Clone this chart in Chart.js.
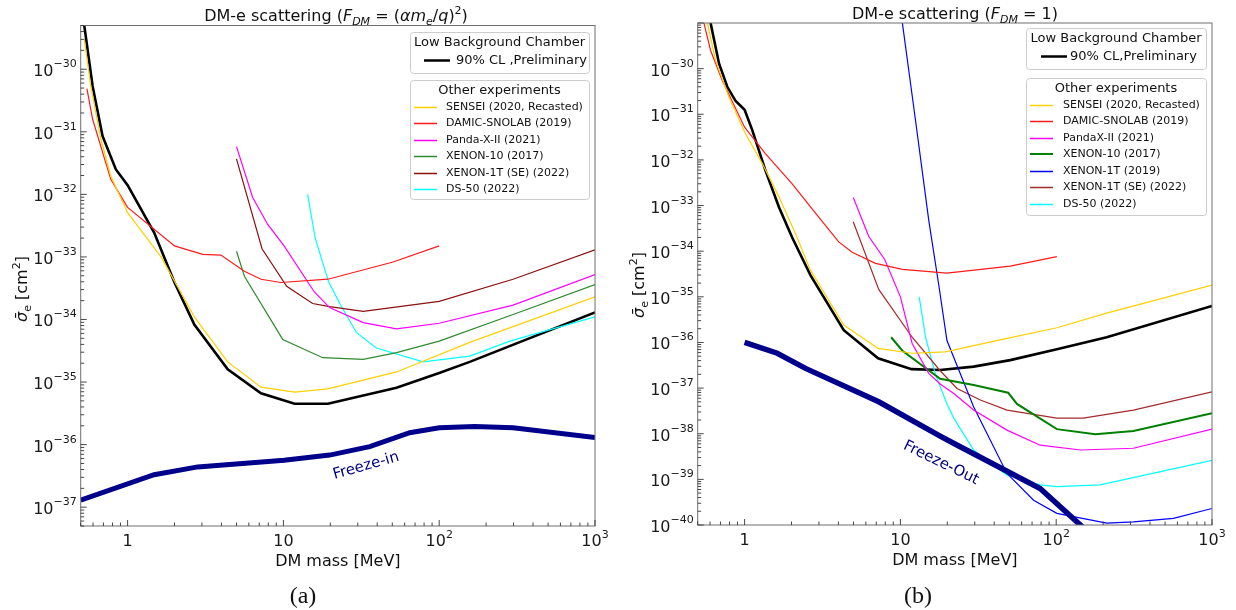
<!DOCTYPE html>
<html><head><meta charset="utf-8">
<script src="https://cdn.jsdelivr.net/npm/chart.js@4.4.0/dist/chart.umd.min.js"></script>
<style>
html,body{margin:0;padding:0;background:#fff;width:1236px;height:610px;overflow:hidden}
.w{position:absolute;top:0;width:618px;height:610px}
#wa{left:0}#wb{left:618px}
canvas{display:block}
</style></head><body>
<div class="w" id="wa"><canvas id="ca" width="618" height="610" style="width:618px;height:610px"></canvas></div>
<div class="w" id="wb"><canvas id="cb" width="618" height="610" style="width:618px;height:610px"></canvas></div>
<script>
// ---------------- DATA: panel (a)  F_DM = (alpha m_e / q)^2 ----------------
const aLbcM   = [0.5, 0.596, 0.691, 0.841, 1.0, 1.48, 2.0, 2.68, 4.39, 7.18, 11.8, 19.3, 53.2, 100, 157, 1000];
const aLbcS   = [1.3e-29, 5.4e-31, 8.5e-32, 2.5e-32, 1.4e-32, 2.45e-33, 3.9e-34, 8.3e-35, 1.6e-35, 6.6e-36, 4.5e-36, 4.5e-36, 8.1e-36, 1.4e-35, 2.1e-35, 1.3e-34];
const aSenseiM = [0.527, 0.58, 0.674, 0.78, 1.0, 1.64, 2.68, 4.39, 7.18, 11.8, 19.3, 53.2, 157, 1000];
const aSenseiS = [3.0e-30, 5.4e-31, 7.6e-32, 1.95e-32, 5.1e-33, 1.0e-33, 1.1e-34, 2.1e-35, 8.3e-36, 6.9e-36, 7.8e-36, 1.45e-35, 4.3e-35, 2.3e-34];
const aDamicM = [0.548, 0.596, 0.691, 0.78, 1.0, 2.0, 3.03, 3.97, 5.62, 7.18, 9.65, 19.3, 50.6, 100];
const aDamicS = [4.9e-31, 1.6e-31, 4.7e-32, 1.74e-32, 6.2e-33, 1.5e-33, 1.1e-33, 1.07e-33, 5.9e-34, 4.4e-34, 3.9e-34, 4.4e-34, 8.3e-34, 1.5e-33];
const aPandaM = [5.0, 6.35, 7.93, 10.1, 15.8, 19.8, 32.5, 53.2, 100, 298, 1000];
const aPandaS = [5.8e-32, 8.9e-33, 3.3e-33, 1.5e-33, 2.75e-34, 1.55e-34, 8.9e-35, 7.1e-35, 8.7e-35, 1.7e-34, 5.2e-34];
const aXe10M  = [5.0, 5.62, 9.9, 17.9, 32.5, 53.2, 100, 298, 1000];
const aXe10S  = [1.23e-33, 4.9e-34, 4.8e-35, 2.45e-35, 2.3e-35, 2.95e-35, 4.5e-35, 1.2e-34, 3.6e-34];
const aXe1tSeM = [5.0, 7.29, 10.5, 15.4, 19.8, 32.5, 100, 298, 1000];
const aXe1tSeS = [3.7e-32, 1.35e-33, 3.4e-34, 1.8e-34, 1.6e-34, 1.35e-34, 1.95e-34, 4.4e-34, 1.3e-33];
const aDs50M  = [14.3, 16.0, 19.5, 23.0, 29.4, 39.5, 78.8, 157, 284, 1000];
const aDs50S  = [1.0e-32, 2.0e-33, 4.0e-34, 1.8e-34, 6.2e-35, 3.5e-35, 2.1e-35, 2.6e-35, 4.5e-35, 1.1e-34];
const aFreezeM = [0.5, 1.48, 2.82, 10.1, 19.8, 35.8, 64.7, 100, 169, 298, 1000];
const aFreezeS = [1.3e-37, 3.3e-37, 4.4e-37, 5.6e-37, 6.8e-37, 9.3e-37, 1.55e-36, 1.86e-36, 1.95e-36, 1.86e-36, 1.3e-36];

// ---------------- DATA: panel (b)  F_DM = 1 ----------------
const bLbcM   = [0.5, 0.605, 0.685, 0.774, 0.876, 1.0, 1.12, 1.36, 1.66, 2.02, 2.65, 4.33, 7.19, 11.8, 18.0, 29.5, 50.7, 101, 211, 1000];
const bLbcS   = [2.5e-28, 1.0e-29, 1.3e-30, 4.0e-31, 1.95e-31, 1.26e-31, 4.5e-32, 5.9e-33, 9.3e-34, 2.0e-34, 2.95e-35, 1.86e-36, 4.5e-37, 2.6e-37, 2.5e-37, 2.95e-37, 4.1e-37, 7.1e-37, 1.3e-36, 6.3e-36];
const bSenseiM = [0.5, 0.577, 0.652, 0.793, 1.0, 1.3, 1.66, 2.12, 2.65, 4.33, 7.19, 11.9, 19.4, 48.3, 101, 211, 1000];
const bSenseiS = [9e-29, 1e-29, 1.5e-30, 2.4e-31, 4.1e-32, 8.3e-33, 1.55e-33, 2.45e-34, 3.8e-35, 2.4e-36, 7.4e-37, 5.8e-37, 6.2e-37, 1.23e-36, 2.1e-36, 4.4e-36, 1.8e-35];
const bDamicM = [0.5, 0.549, 0.605, 0.719, 1.0, 1.36, 2.02, 2.92, 4.02, 4.9, 6.92, 10.3, 19.9, 50.7, 101];
const bDamicS = [3.5e-29, 9.8e-30, 2.5e-30, 5.5e-31, 5.2e-32, 1.38e-32, 3.0e-33, 6.2e-34, 1.6e-34, 9.5e-35, 5.4e-35, 4.0e-35, 3.3e-35, 4.7e-35, 7.6e-35];
const bPandaM = [4.98, 6.27, 7.93, 10.0, 11.9, 15.2, 18.0, 22.0, 29.5, 48.3, 78.9, 143, 313, 1000];
const bPandaS = [1.5e-33, 2.1e-34, 6.6e-35, 1.0e-35, 9.5e-37, 2.1e-37, 1.23e-37, 7.6e-38, 3.3e-38, 1.2e-38, 5.6e-39, 4.4e-39, 4.8e-39, 1.26e-38];
const bXe10M  = [8.72, 10.3, 18.0, 29.5, 49.2, 56.0, 101, 178, 313, 1000];
const bXe10S  = [1.3e-36, 6.6e-37, 1.6e-37, 1.17e-37, 7.9e-38, 4.5e-38, 1.26e-38, 9.8e-39, 1.15e-38, 2.8e-38];
const bXe1tM  = [10.0, 12.5, 15.2, 17.7, 19.9, 29.5, 48.3, 71.6, 101, 211, 313, 565, 1000];
const bXe1tS  = [2.1e-29, 7.4e-32, 4.8e-34, 1.66e-35, 1.1e-36, 3.9e-38, 1.35e-39, 3.5e-40, 1.8e-40, 1.1e-40, 1.17e-40, 1.4e-40, 2.3e-40];
const bXe1tSeM = [4.98, 7.26, 11.9, 18.0, 23.1, 32.6, 48.3, 101, 149, 313, 1000];
const bXe1tSeS = [4.4e-34, 1.45e-35, 1.3e-36, 2.4e-37, 9.8e-38, 5.5e-38, 3.3e-38, 2.2e-38, 2.2e-38, 3.3e-38, 8.3e-38];
const bDs50M  = [13.2, 14.5, 16.8, 19.9, 22.0, 29.5, 48.3, 78.9, 101, 191, 1000];
const bDs50S  = [1.0e-35, 1.3e-36, 2.0e-37, 4.5e-38, 2.2e-38, 4.4e-39, 1.23e-39, 7.6e-40, 6.9e-40, 7.6e-40, 2.6e-39];
const bFreezeM = [1.0, 1.62, 2.46, 7.26, 18.0, 23.2, 78.9, 143, 160];
const bFreezeS = [1.0e-36, 5.8e-37, 2.7e-37, 5.0e-38, 8.9e-39, 5.6e-39, 6.3e-40, 1.0e-40, 7.0e-41];

// ---------------- TICK LABELS ----------------
const xTickVals = [1, 10, 100, 1000];
const xTickLabels = [['1',''], ['10',''], ['10','2'], ['10','3']];
const yTickValsA = [1e-37, 1e-36, 1e-35, 1e-34, 1e-33, 1e-32, 1e-31, 1e-30];
const yTickLabelsA = ['\u221237','\u221236','\u221235','\u221234','\u221233','\u221232','\u221231','\u221230'];
const yTickValsB = [1e-40, 1e-39, 1e-38, 1e-37, 1e-36, 1e-35, 1e-34, 1e-33, 1e-32, 1e-31, 1e-30];
const yTickLabelsB = ['\u221240','\u221239','\u221238','\u221237','\u221236','\u221235','\u221234','\u221233','\u221232','\u221231','\u221230'];

// ---------------- helpers ----------------
const FONT = '"DejaVu Sans", "Liberation Sans", sans-serif';
function pts(m, s){ return m.map((x,i)=>({x:x, y:s[i]})); }
function ds(label, m, s, color, width){
  return {label, data: pts(m,s), borderColor: color, backgroundColor: color, borderWidth: width,
          pointRadius: 0, tension: 0, fill: false, showLine: true};
}
function fontOf(s, base){ return (s.it ? 'italic ' : '') + (s.size || base) + 'px ' + FONT; }
function richWidth(ctx, segs, base){ let w=0; for(const s of segs){ ctx.font=fontOf(s,base); w+=ctx.measureText(s.t).width; } return w; }
function drawRich(ctx, segs, x, y, base, align){
  const w = richWidth(ctx, segs, base);
  let cx = align==='center' ? x-w/2 : (align==='right' ? x-w : x);
  ctx.textAlign='left'; ctx.textBaseline='alphabetic';
  for(const s of segs){ ctx.font=fontOf(s,base); ctx.fillText(s.t, cx, y+(s.dy||0)); cx+=ctx.measureText(s.t).width; }
}
function logTicks(min, max){
  const out=[];
  for(let e=Math.floor(Math.log10(min)); e<=Math.ceil(Math.log10(max)); e++){
    for(let k=1;k<10;k++){ const v=k*Math.pow(10,e); if(v>=min*0.9999 && v<=max*1.0001) out.push({v, major:k===1}); }
  }
  return out;
}
function roundRect(ctx,x,y,w,h,r){
  ctx.beginPath(); ctx.moveTo(x+r,y); ctx.lineTo(x+w-r,y); ctx.quadraticCurveTo(x+w,y,x+w,y+r);
  ctx.lineTo(x+w,y+h-r); ctx.quadraticCurveTo(x+w,y+h,x+w-r,y+h); ctx.lineTo(x+r,y+h);
  ctx.quadraticCurveTo(x,y+h,x,y+h-r); ctx.lineTo(x,y+r); ctx.quadraticCurveTo(x,y,x+r,y); ctx.closePath();
}

const decor = {
  id: 'decor',
  afterDraw(chart, args, o){
    const ctx = chart.ctx, ca = chart.chartArea, xs = chart.scales.x, ys = chart.scales.y;
    ctx.save();
    // frame
    ctx.strokeStyle = '#6f6f6f'; ctx.lineWidth = 1;
    ctx.strokeRect(ca.left, ca.top, ca.right-ca.left, ca.bottom-ca.top);
    // ticks (inward)
    ctx.strokeStyle = '#333'; ctx.lineWidth = 0.9;
    ctx.beginPath();
    for(const t of logTicks(xs.min, xs.max)){
      const px = xs.getPixelForValue(t.v); const len = t.major ? 6 : 3.5;
      ctx.moveTo(px, ca.bottom); ctx.lineTo(px, ca.bottom-len);
    }
    for(const t of logTicks(ys.min, ys.max)){
      const py = ys.getPixelForValue(t.v); const len = t.major ? 6 : 3.5;
      ctx.moveTo(ca.left, py); ctx.lineTo(ca.left+len, py);
    }
    ctx.stroke();
    // tick labels
    ctx.fillStyle = '#1a1a1a';
    xTickVals.forEach((v,i)=>{
      const px = xs.getPixelForValue(v); const lb = xTickLabels[i];
      const segs=[{t:lb[0]}]; if(lb[1]) segs.push({t:lb[1], size:11, dy:-8});
      drawRich(ctx, segs, px, ca.bottom+19.5, 16, 'center');
    });
    o.yVals.forEach((v,i)=>{
      const py = ys.getPixelForValue(v);
      drawRich(ctx, [{t:'10'},{t:o.yLabels[i], size:11, dy:-9}], ca.left-4, py+7, 16, 'right');
    });
    // axis titles
    ctx.fillStyle = '#111';
    drawRich(ctx, [{t:'DM mass [MeV]'}], (ca.left+ca.right)/2, ca.bottom+39.5, 16, 'center');
    ctx.save();
    ctx.translate(o.yLabelX, o.yLabelY); ctx.rotate(-Math.PI/2);
    drawRich(ctx, [{t:'\u03C3\u0304', it:true},{t:'e', size:11, dy:4},{t:' [cm'},{t:'2', size:11, dy:-7},{t:']'}], 0, 6, 16, 'center');
    ctx.restore();
    // title
    drawRich(ctx, o.title, o.titleX, o.titleY, 16, 'center');
    // caption
    ctx.font = '24px "Liberation Serif", "DejaVu Serif", serif'; ctx.textAlign='center'; ctx.textBaseline='alphabetic';
    ctx.fillText(o.caption, o.capX, 603);
    // freeze label
    ctx.save(); ctx.fillStyle = '#000080'; ctx.font = '15px ' + FONT;
    ctx.translate(o.fl.x, o.fl.y); ctx.rotate(o.fl.a*Math.PI/180);
    ctx.textAlign='center'; ctx.textBaseline='middle'; ctx.fillText(o.fl.t, 0, 0); ctx.restore();
    // legends
    const L = o.legend;
    ctx.lineWidth = 1; ctx.strokeStyle = '#cccccc'; ctx.fillStyle = 'rgba(255,255,255,0.85)';
    roundRect(ctx, L.x0+0.5, L.y1+0.5, L.w, L.h1, 3); ctx.fill(); ctx.stroke();
    ctx.fillStyle = 'rgba(255,255,255,0.85)';
    roundRect(ctx, L.x0+0.5, L.y2+0.5, L.w, L.h2, 3); ctx.fill(); ctx.stroke();
    ctx.fillStyle = '#111'; ctx.font = '13px ' + FONT; ctx.textAlign='center'; ctx.textBaseline='middle';
    ctx.fillText('Low Background Chamber', L.x0+L.w/2, L.y1+10.5);
    ctx.fillText('Other experiments', L.x0+L.w/2, L.y2+10.5);
    ctx.strokeStyle='#000'; ctx.lineWidth=2.5; ctx.beginPath(); ctx.moveTo(L.l1a, L.y1+28.5); ctx.lineTo(L.l1b, L.y1+28.5); ctx.stroke();
    ctx.textAlign='left'; ctx.font = '13px ' + FONT;
    ctx.fillText(L.lbcText, L.t1, L.y1+28.5);
    ctx.font = '11px ' + FONT;
    L.entries.forEach((e,i)=>{
      const y = Math.round(L.y2 + 27 + i*16.45);
      const ly = (e.w < 1.8) ? y + 0.5 : y;
      ctx.strokeStyle = e.c; ctx.lineWidth = e.w; ctx.beginPath(); ctx.moveTo(L.l2a, ly); ctx.lineTo(L.l2b, ly); ctx.stroke();
      ctx.fillStyle='#111'; ctx.fillText(e.t, L.t2, y);
    });
    ctx.restore();
  }
};

function makeChart(id, datasets, ymin, ymax, pad, yW, xH, deco){
  return new Chart(document.getElementById(id), {
    type: 'line',
    data: { datasets },
    options: {
      responsive: false, animation: false, events: [], devicePixelRatio: 1,
      layout: { padding: pad },
      plugins: { legend: {display:false}, tooltip: {enabled:false}, title:{display:false}, decor: deco },
      scales: {
        x: { type:'logarithmic', min:0.5, max:1000, grid:{display:false}, border:{display:false}, ticks:{display:false},
             afterFit: s => { s.height = xH; } },
        y: { type:'logarithmic', min:ymin, max:ymax, grid:{display:false}, border:{display:false}, ticks:{display:false},
             afterFit: s => { s.width = yW; } }
      }
    },
    plugins: [decor]
  });
}

const cGold='#FFD000', cRed='#FF1A1A', cMag='#FF00FF', cGreenA='#2E8B2E', cGreenB='#008000', cBrownA='#8B1010', cBrownB='#A52A2A', cCyan='#00FFFF', cBlue='#0000FF', cNavy='#00008B';

makeChart('ca', [
  ds('Freeze-in', aFreezeM, aFreezeS, cNavy, 5),
  ds('SENSEI (2020, Recasted)', aSenseiM, aSenseiS, cGold, 1.2),
  ds('DAMIC-SNOLAB (2019)', aDamicM, aDamicS, cRed, 1.2),
  ds('Panda-X-II (2021)', aPandaM, aPandaS, cMag, 1.2),
  ds('XENON-10 (2017)', aXe10M, aXe10S, cGreenA, 1.2),
  ds('XENON-1T (SE) (2022)', aXe1tSeM, aXe1tSeS, cBrownA, 1.2),
  ds('DS-50 (2022)', aDs50M, aDs50S, cCyan, 1.2),
  ds('Low Background Chamber', aLbcM, aLbcS, '#000000', 2.6)
], 5e-38, 5e-30, {left:0, right:23, top:25.5, bottom:0}, 80.7, 84, {
  yVals: yTickValsA, yLabels: yTickLabelsA, yLabelX: 21, yLabelY: 289,
  title: [{t:'DM-e scattering ('},{t:'F',it:true},{t:'DM',it:true,size:11,dy:4},{t:' = ('},{t:'\u03B1m',it:true},{t:'e',it:true,size:11,dy:4},{t:'/'},{t:'q',it:true},{t:')'},{t:'2',size:11,dy:-7},{t:')'}],
  titleX: 336, titleY: 20.5, caption: '(a)', capX: 303,
  fl: {t:'Freeze-in', x:366, y:466, a:-16},
  legend: { x0:410, w:179, y1:32, h1:41, y2:80, h2:119, l1a:424, l1b:450, t1:456, lbcText:'90% CL ,Preliminary',
    l2a:414, l2b:437, t2:446,
    entries: [ {t:'SENSEI (2020, Recasted)', c:cGold, w:1.5}, {t:'DAMIC-SNOLAB (2019)', c:cRed, w:1.5},
      {t:'Panda-X-II (2021)', c:cMag, w:1.5}, {t:'XENON-10 (2017)', c:cGreenA, w:1.5},
      {t:'XENON-1T (SE) (2022)', c:cBrownA, w:1.5}, {t:'DS-50 (2022)', c:cCyan, w:1.5} ] }
});

makeChart('cb', [
  ds('Freeze-Out', bFreezeM, bFreezeS, cNavy, 5.5),
  ds('SENSEI (2020, Recasted)', bSenseiM, bSenseiS, cGold, 1.2),
  ds('DAMIC-SNOLAB (2019)', bDamicM, bDamicS, cRed, 1.2),
  ds('PandaX-II (2021)', bPandaM, bPandaS, cMag, 1.2),
  ds('XENON-10 (2017)', bXe10M, bXe10S, cGreenB, 2),
  ds('XENON-1T (2019)', bXe1tM, bXe1tS, cBlue, 1.2),
  ds('XENON-1T (SE) (2022)', bXe1tSeM, bXe1tSeS, cBrownB, 1.2),
  ds('DS-50 (2022)', bDs50M, bDs50S, cCyan, 1.2),
  ds('Low Background Chamber', bLbcM, bLbcS, '#000000', 2.6)
], 1e-40, 1e-29, {left:0, right:24, top:23, bottom:0}, 79.7, 85, {
  yVals: yTickValsB, yLabels: yTickLabelsB, yLabelX: 20, yLabelY: 285,
  title: [{t:'DM-e scattering ('},{t:'F',it:true},{t:'DM',it:true,size:11,dy:4},{t:' = 1)'}],
  titleX: 337, titleY: 18.5, caption: '(b)', capX: 300,
  fl: {t:'Freeze-Out', x:323, y:463, a:26},
  legend: { x0:408, w:180, y1:28, h1:41, y2:78, h2:137, l1a:423, l1b:449, t1:452, lbcText:'90% CL,Preliminary',
    l2a:412, l2b:435, t2:445,
    entries: [ {t:'SENSEI (2020, Recasted)', c:cGold, w:1.5}, {t:'DAMIC-SNOLAB (2019)', c:cRed, w:1.5},
      {t:'PandaX-II (2021)', c:cMag, w:1.5}, {t:'XENON-10 (2017)', c:cGreenB, w:2},
      {t:'XENON-1T (2019)', c:cBlue, w:1.5}, {t:'XENON-1T (SE) (2022)', c:cBrownB, w:1.5}, {t:'DS-50 (2022)', c:cCyan, w:1.5} ] }
});
</script>
</body></html>
